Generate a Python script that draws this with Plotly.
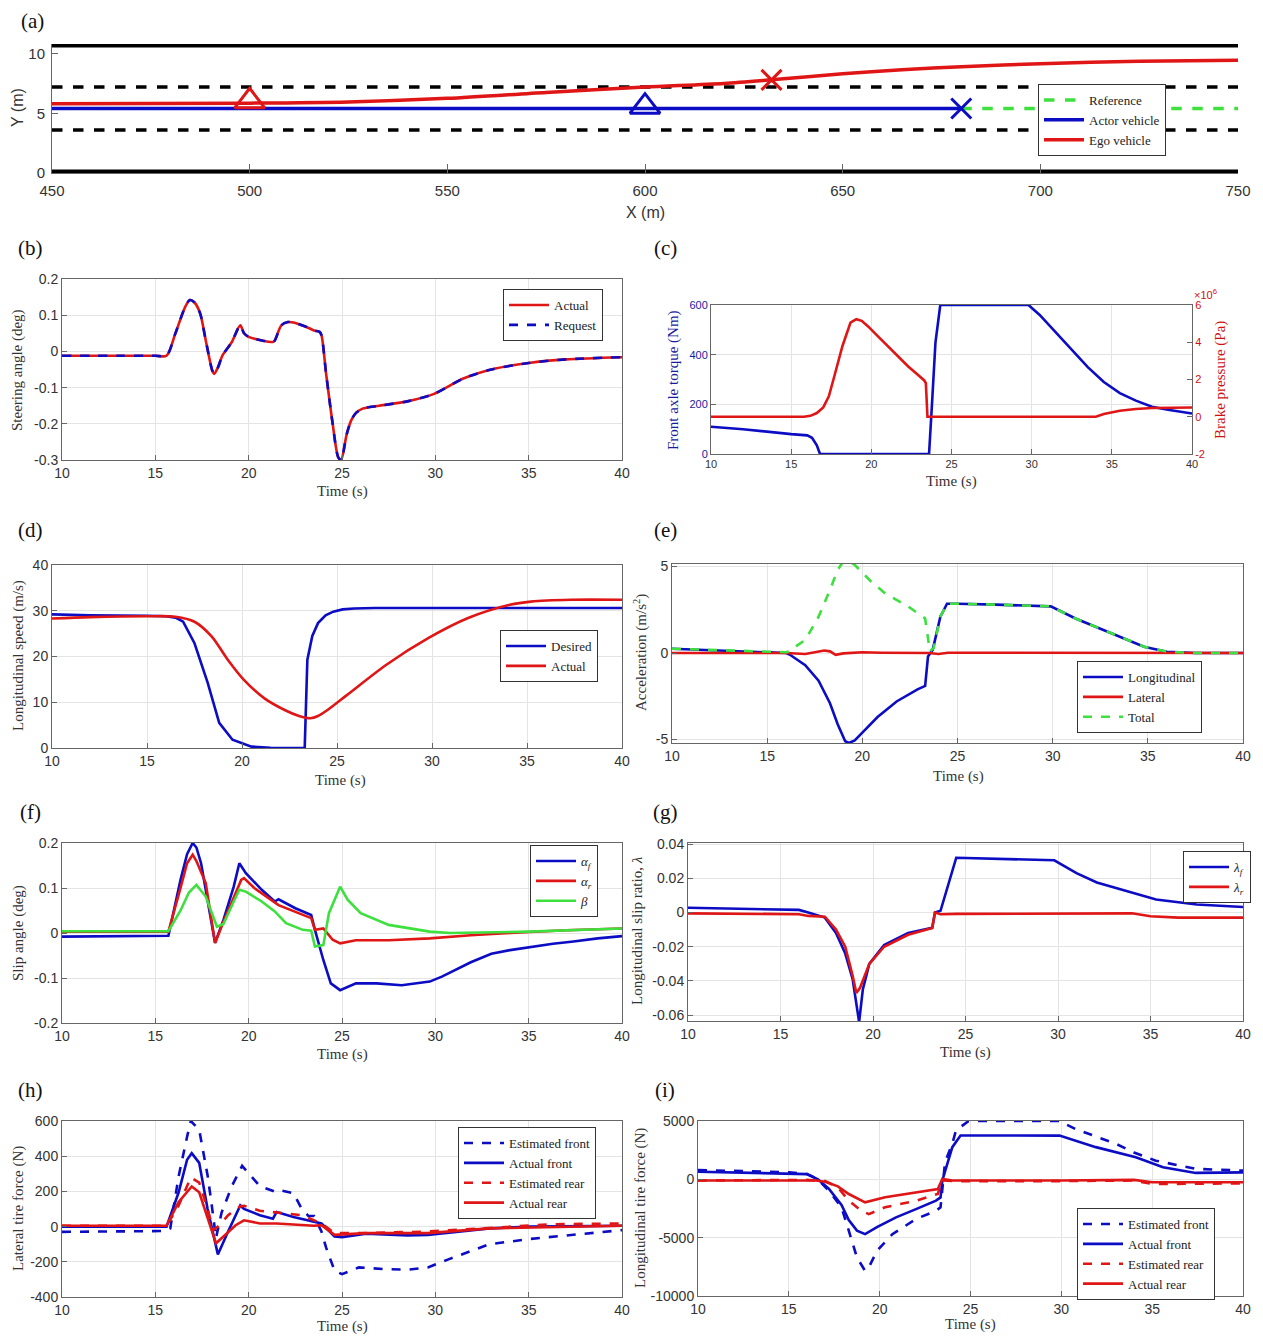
import plotly.graph_objects as go

PAGE_W, PAGE_H = 1263, 1342
BODY_MARGIN = 8
W, H = PAGE_W - 2 * BODY_MARGIN, PAGE_H - 2 * BODY_MARGIN

# ---------------- (a) trajectories ----------------
road_x = [450, 750]
road_edge_lo = [0, 0]
road_edge_hi = [10.8, 10.8]
lane_lo = [3.6, 3.6]
lane_hi = [7.2, 7.2]
actor_x = [450, 680]
actor_y = [5.4, 5.4]
ref_x = [680, 750]
ref_y = [5.4, 5.4]
ego_x = [450, 500, 525, 550, 575, 600, 620, 632, 650, 665, 680, 700, 725, 750]
ego_y = [5.8, 5.85, 5.95, 6.25, 6.75, 7.2, 7.5, 7.8, 8.3, 8.65, 8.9, 9.15, 9.35, 9.45]
ego_start_x, ego_start_y = [500], [6.0]
ego_end_x, ego_end_y = [632], [7.8]
actor_start_x, actor_start_y = [600], [5.55]
actor_end_x, actor_end_y = [680], [5.4]

# ---------------- (b) steering ----------------
steer_t = [10, 13, 15.0, 15.6, 16.07, 16.6, 16.85, 17.1, 17.4, 17.7, 18.05, 18.15, 18.35, 18.6,
           19.1, 19.55, 19.75, 20.0, 20.65, 21.3, 21.4, 21.75, 22.1, 22.4, 23.07, 23.5, 23.8,
           23.9, 24.15, 24.5, 24.8, 24.95, 25.25, 25.5, 25.75, 26.1, 27, 28.5, 29.9, 31.5, 33,
           35, 37, 40]
steer_actual = [-0.012, -0.012, -0.012, -0.012, 0.049, 0.123, 0.142, 0.135, 0.105, 0.031, -0.053,
                -0.062, -0.045, -0.011, 0.026, 0.072, 0.05, 0.04, 0.031, 0.026, 0.03, 0.072,
                0.081, 0.08, 0.068, 0.058, 0.054, 0.045, -0.062, -0.2, -0.293, -0.3, -0.229,
                -0.19, -0.17, -0.158, -0.15, -0.138, -0.118, -0.075, -0.05, -0.032, -0.022,
                -0.016]
steer_request = [-0.012, -0.012, -0.012, -0.012, 0.049, 0.123, 0.142, 0.135, 0.105, 0.031,
                 -0.053, -0.062, -0.045, -0.011, 0.026, 0.072, 0.05, 0.04, 0.031, 0.026, 0.03,
                 0.072, 0.081, 0.08, 0.068, 0.058, 0.054, 0.045, -0.062, -0.2, -0.293, -0.3,
                 -0.229, -0.19, -0.17, -0.158, -0.15, -0.138, -0.118, -0.075, -0.05, -0.032,
                 -0.022, -0.016]

# ---------------- (c) torque / brake pressure ----------------
torque_t = [10, 12, 15, 16, 16.3, 16.6, 16.8, 23.6, 23.8, 24.0, 24.3, 29.8, 30.5, 31.5, 32.5,
            33.5, 34.5, 35.5, 36.5, 37.5, 38.5, 40]
torque = [110, 100, 80, 75, 65, 35, 0, 0, 220, 450, 600, 600, 560, 490, 420, 350, 290, 245, 215,
          190, 178, 163]
press_t = [10, 15.8, 16.2, 16.6, 17.0, 17.35, 17.7, 18.2, 18.7, 19.06, 19.4, 19.8, 20.4, 21.0,
           21.65, 22.3, 22.9, 23.3, 23.4, 23.5, 34.0, 34.5, 35.5, 36.5, 37.5, 40]
pressure_1e6 = [0, 0, 0.05, 0.2, 0.5, 1.1, 2.2, 3.8, 5.06, 5.24, 5.15, 4.85, 4.33, 3.8, 3.25,
                2.7, 2.25, 1.95, 1.8, 0, 0, 0.15, 0.32, 0.42, 0.47, 0.5]

# ---------------- (d) longitudinal speed ----------------
des_t = [10, 12, 15, 16, 16.5, 16.9, 17.5, 18.2, 18.8, 19.5, 20.5, 21.5, 23.3, 23.44, 23.7, 24.0,
         24.4, 24.8, 25.3, 25.9, 27, 40]
speed_desired = [29.2, 29.0, 28.9, 28.8, 28.5, 27.6, 22.9, 14.2, 5.5, 1.8, 0.3, 0.05, 0.0, 19.3,
                 24.5, 27.3, 29.0, 29.8, 30.3, 30.5, 30.6, 30.6]
act_t = [10, 12, 15, 16.5, 17.5, 18.4, 19.25, 20.1, 21.2, 22.3, 23.0, 23.6, 24.0, 24.5, 25.5,
         27.6, 29.8, 31.9, 34.1, 35.2, 37.3, 40]
speed_actual = [28.3, 28.6, 28.8, 28.7, 27.6, 24.4, 19.3, 14.9, 10.8, 8.2, 7.0, 6.5, 7.0, 8.3,
                11.5, 18.2, 24.0, 28.4, 31.3, 32.0, 32.4, 32.4]

# ---------------- (e) accelerations ----------------
lon_t = [10, 12, 14, 16, 16.2, 17.0, 17.7, 18.3, 18.7, 19.1, 19.3, 19.6, 20.0, 20.8, 21.8, 22.9,
         23.3, 23.45, 23.7, 24.1, 24.45, 25, 27, 29.9, 31.2, 33.3, 34.8, 36.0, 37.5, 40]
acc_lon = [0.25, 0.18, 0.1, 0.0, -0.1, -0.7, -1.6, -2.9, -4.1, -5.1, -5.2, -5.05, -4.6, -3.7,
           -2.8, -2.1, -1.9, -0.2, 0.2, 2.1, 2.85, 2.85, 2.8, 2.7, 2.0, 1.05, 0.37, 0.08, 0.0, 0.0]
lat_t = [10, 16, 17, 17.5, 18, 18.3, 18.6, 19.0, 20, 21, 23.5, 24.0, 24.5, 40]
acc_lat = [0, 0, -0.05, 0.05, 0.15, 0.1, -0.1, -0.02, 0.05, 0.02, 0.0, -0.05, 0.02, 0.0]
tot_t = [10, 12, 14, 16, 16.3, 16.6, 17.0, 17.7, 18.3, 18.7, 19.0, 19.3, 19.6, 20.4, 21.2, 22.4,
         23.3, 23.55, 23.75, 24.1, 24.45, 25, 27, 29.9, 31.2, 33.3, 34.8, 36.0, 37.5, 40]
acc_tot = [0.25, 0.18, 0.1, 0.05, 0.15, 0.46, 0.75, 2.1, 3.65, 4.8, 5.3, 5.3, 5.1, 4.2, 3.45, 2.7,
           2.0, 0.1, 0.3, 2.1, 2.85, 2.85, 2.8, 2.7, 2.0, 1.05, 0.37, 0.08, 0.0, 0.0]

# ---------------- (f) slip angles ----------------
af_t = [10, 15.7, 16.35, 16.7, 17.0, 17.2, 17.45, 17.9, 18.2, 18.65, 19.2, 19.5, 19.85, 20.7,
        21.4, 21.6, 22.5, 23.35, 23.55, 24.0, 24.4, 24.9, 25.75, 26.85, 28.2, 29.7, 30.35, 31.9,
        33.0, 34.0, 35.2, 36.3, 37.4, 38.7, 40]
alpha_f = [-0.008, -0.006, 0.118, 0.175, 0.2, 0.19, 0.155, 0.044, -0.022, 0.029, 0.103, 0.155,
           0.133, 0.096, 0.07, 0.075, 0.055, 0.04, 0.007, -0.06, -0.112, -0.127, -0.112, -0.112,
           -0.116, -0.108, -0.097, -0.065, -0.046, -0.038, -0.03, -0.024, -0.019, -0.012, -0.007]
ar_t = [10, 15.7, 16.35, 16.7, 17.0, 17.2, 17.7, 18.2, 18.6, 19.0, 19.6, 19.75, 20.3, 21.6, 23.35,
        23.55, 24.0, 24.5, 24.9, 25.75, 27.5, 29.7, 31.9, 34.0, 37, 40]
alpha_r = [0.003, 0.003, 0.1, 0.155, 0.174, 0.16, 0.111, -0.022, 0.02, 0.059, 0.118, 0.122, 0.1,
           0.062, 0.033, 0.007, 0.01, -0.015, -0.023, -0.016, -0.016, -0.012, -0.005, 0.0, 0.006,
           0.01]
beta_t = [10, 15.7, 16.35, 16.8, 17.2, 17.7, 18.3, 18.65, 19.2, 19.5, 19.85, 20.7, 21.4, 22.0,
          22.9, 23.35, 23.55, 24.0, 24.3, 24.9, 25.3, 26.0, 27.5, 29.7, 30.8, 35, 40]
beta = [0.004, 0.004, 0.05, 0.09, 0.107, 0.081, 0.014, 0.02, 0.07, 0.096, 0.092, 0.07, 0.048,
        0.022, 0.007, 0.005, -0.03, -0.027, 0.044, 0.103, 0.074, 0.044, 0.018, 0.003, 0.0, 0.003,
        0.01]

# ---------------- (g) slip ratios ----------------
lf_t = [10, 15, 16, 16.5, 17.4, 18.0, 18.5, 18.9, 19.1, 19.25, 19.45, 19.8, 20.6, 21.9, 23.2,
        23.35, 23.65, 24.3, 24.5, 29.8, 31.0, 32.1, 34.0, 35.3, 37.5, 40]
lam_f = [0.0028, 0.002, 0.0015, 0.0, -0.003, -0.012, -0.024, -0.039, -0.053, -0.064, -0.045,
         -0.03, -0.019, -0.012, -0.009, 0.0, 0.001, 0.025, 0.032, 0.0305, 0.023, 0.0175, 0.0116,
         0.0076, 0.0047, 0.0032]
lr_t = [10, 16, 16.5, 17.4, 18.0, 18.5, 18.9, 19.1, 19.3, 19.8, 20.6, 21.9, 23.2, 23.35, 23.65,
        24.5, 34.0, 35.0, 36.5, 40]
lam_r = [-0.0005, -0.001, -0.002, -0.0025, -0.01, -0.02, -0.037, -0.047, -0.044, -0.03, -0.02,
         -0.013, -0.009, 0.0, -0.001, -0.0008, -0.0005, -0.0022, -0.003, -0.003]

# ---------------- (h) lateral tire forces ----------------
hef_t = [10, 15.5, 15.8, 16.25, 16.7, 16.9, 17.35, 17.8, 18.0, 18.25, 18.55, 19.1, 19.65, 20.6,
         21.5, 21.75, 22.4, 22.8, 23.2, 23.5, 23.9, 24.15, 24.6, 25.0, 25.9, 27.4, 28.5, 29.6,
         30.7, 32.9, 35.1, 37, 40]
lat_est_front = [-30, -25, -10, 287, 510, 600, 550, 290, 140, -65, 80, 230, 345, 230, 195, 205,
                 190, 110, 60, 60, -28, -120, -250, -270, -232, -242, -245, -232, -186, -100, -70,
                 -50, -20]
haf_t = [10, 15.6, 16.25, 16.7, 16.95, 17.35, 17.8, 18.25, 18.35, 18.9, 19.55, 19.75, 20.6, 21.3,
         21.5, 22.4, 23.5, 23.9, 24.6, 25.0, 26.3, 28.5, 29.6, 32.9, 35.1, 40]
lat_act_front = [0, 0, 195, 380, 417, 362, 100, -112, -158, -28, 120, 100, 65, 45, 83, 55, 28, 18,
                 -56, -60, -40, -50, -47, -10, 0, 5]
her_t = [10, 15.6, 16.25, 16.9, 17.35, 17.8, 18.1, 18.45, 18.9, 19.55, 19.75, 20.6, 21.95, 22.8,
         23.3, 23.9, 24.6, 26.3, 29.6, 32.9, 36.2, 40]
lat_est_rear = [5, 5, 120, 280, 250, 100, -20, 8, 65, 115, 118, 90, 75, 65, 45, 18, -37, -37, -28,
                -6, 13, 18]
har_t = [10, 15.6, 16.25, 16.95, 17.35, 17.8, 18.25, 18.65, 19.3, 19.75, 20.6, 21.5, 22.4, 23.5,
         23.9, 24.6, 26.3, 29.6, 32.9, 37.3, 40]
lat_act_rear = [5, 5, 140, 228, 195, 45, -95, -56, 8, 36, 18, 18, 13, 5, 8, -47, -37, -37, -10,
                0, 5]

# ---------------- (i) longitudinal tire forces ----------------
ief_t = [10, 15, 16, 16.6, 17.2, 17.9, 18.3, 18.75, 19.2, 19.4, 19.85, 20.7, 22.0, 23.1, 23.35,
         23.6, 24.0, 24.2, 24.9, 29.9, 30.8, 32.0, 33.0, 34.0, 35.2, 37.4, 40]
lon_est_front = [800, 600, 450, 0, -970, -2400, -4400, -6700, -7850, -7560, -6130, -4700, -3400,
                 -2700, -2400, 1500, 3050, 4200, 5000, 5000, 4300, 3600, 3050, 2300, 1600, 900,
                 750]
iaf_t = [10, 15, 16, 16.6, 17.2, 17.9, 18.3, 18.75, 19.2, 19.85, 20.9, 22.0, 23.1, 23.35, 23.45,
         24.0, 24.45, 29.9, 31.9, 34.1, 35.6, 37.4, 40]
lon_act_front = [650, 500, 450, 0, -800, -2200, -3500, -4400, -4700, -4100, -3260, -2550, -1830,
                 -1550, -100, 2760, 3760, 3750, 2760, 1900, 1040, 550, 600]
ier_t = [10, 16, 17, 17.7, 18.3, 19.0, 19.4, 20.3, 22.0, 23.2, 23.45, 24, 30, 34, 35, 37, 40]
lon_est_rear = [-100, -50, -150, -680, -1830, -2700, -2980, -2400, -1830, -1250, -100, -150,
                -150, -100, -400, -400, -350]
iar_t = [10, 16.5, 17, 17.7, 18.3, 19.2, 20.3, 22.0, 23.2, 23.45, 24, 30, 34, 35, 40]
lon_act_rear = [-100, -100, -200, -600, -1260, -1970, -1540, -1110, -830, 30, -100, -100, -50,
                -250, -250]

# tick labels
y_ticks_a = [0, 5, 10]
x_ticks_a = [450, 500, 550, 600, 650, 700, 750]
time_ticks = [10, 15, 20, 25, 30, 35, 40]
y_ticks_b = [-0.3, -0.2, -0.1, 0, 0.1, 0.2]
y_ticks_c = [0, 200, 400, 600]
y2_ticks_c = [-2, 0, 2, 4, 6]
y_ticks_d = [0, 10, 20, 30, 40]
y_ticks_e = [-5, 0, 5]
y_ticks_f = [-0.2, -0.1, 0, 0.1, 0.2]
y_ticks_g = [-0.06, -0.04, -0.02, 0, 0.02, 0.04]
y_ticks_h = [-400, -200, 0, 200, 400, 600]
y_ticks_i = [-10000, -5000, 0, 5000]

# ---------------- styling ----------------
BLUE = "#0c0cc4"
RED = "#e01515"
GREEN = "#3ee03e"
SERIF = "Liberation Serif"
SANS = "Liberation Sans"
LW = 2.6


def px(x):
    # page pixel -> paper fraction (page has an 8px body margin)
    return (x - BODY_MARGIN) / W


def py(y):
    return 1 - (y - BODY_MARGIN) / H


def dom(l, r, t, b):
    return dict(domain=[px(l), px(r)]), dict(domain=[py(b), py(t)])


fig = go.Figure()


def add(x, y, color, name=None, dash=None, xa="x", ya="y", legend=None, width=LW, shape="linear"):
    fig.add_trace(go.Scatter(
        x=x, y=y, mode="lines", name=name if name else "",
        line=dict(color=color, width=width, dash=dash, shape=shape, smoothing=0.8),
        xaxis=xa, yaxis=ya, showlegend=name is not None,
        legend=legend if legend else "legend", hoverinfo="skip"))


# (a)
add(road_x, road_edge_lo, "black", width=7)
add(road_x, road_edge_hi, "black", width=7)
add(road_x, lane_lo, "black", dash="dash", width=3.5)
add(road_x, lane_hi, "black", dash="dash", width=3.5)
add(ref_x, ref_y, GREEN, name="Reference", dash="dash", width=3.5)
add(actor_x, actor_y, BLUE, name="Actor vehicle", width=3.5)
add(ego_x, ego_y, RED, name="Ego vehicle", width=3.5, shape="spline")
for mx, my, sym, col in [(ego_start_x, ego_start_y, "triangle-up-open", RED),
                         (actor_start_x, actor_start_y, "triangle-up-open", BLUE),
                         (ego_end_x, ego_end_y, "x-thin-open", RED),
                         (actor_end_x, actor_end_y, "x-thin-open", BLUE)]:
    fig.add_trace(go.Scatter(x=mx, y=my, mode="markers", showlegend=False, hoverinfo="skip",
                             marker=dict(symbol=sym, size=26 if "triangle" in sym else 20,
                                         color=col, line=dict(color=col, width=3))))

# (b)
add(steer_t, steer_actual, RED, name="Actual", xa="x2", ya="y2", legend="legend2", shape="spline")
add(steer_t, steer_request, BLUE, name="Request", dash="dash", xa="x2", ya="y2", legend="legend2",
    shape="spline")

# (c)
add(torque_t, torque, BLUE, xa="x3", ya="y3")
add(press_t, pressure_1e6, RED, xa="x3", ya="y10")

# (d)
add(des_t, speed_desired, BLUE, name="Desired", xa="x4", ya="y4", legend="legend3")
add(act_t, speed_actual, RED, name="Actual", xa="x4", ya="y4", legend="legend3", shape="spline")

# (e)
add(lon_t, acc_lon, BLUE, name="Longitudinal", xa="x5", ya="y5", legend="legend4")
add(lat_t, acc_lat, RED, name="Lateral", xa="x5", ya="y5", legend="legend4")
add(tot_t, acc_tot, GREEN, name="Total", dash="dash", xa="x5", ya="y5", legend="legend4")

# (f)
add(af_t, alpha_f, BLUE, name="<i>α<sub>f</sub></i>", xa="x6", ya="y6", legend="legend5")
add(ar_t, alpha_r, RED, name="<i>α<sub>r</sub></i>", xa="x6", ya="y6", legend="legend5")
add(beta_t, beta, GREEN, name="<i>β</i>", xa="x6", ya="y6", legend="legend5")

# (g)
add(lf_t, lam_f, BLUE, name="<i>λ<sub>f</sub></i>", xa="x7", ya="y7", legend="legend6")
add(lr_t, lam_r, RED, name="<i>λ<sub>r</sub></i>", xa="x7", ya="y7", legend="legend6")

# (h)
add(hef_t, lat_est_front, BLUE, name="Estimated front", dash="dash", xa="x8", ya="y8", legend="legend7")
add(haf_t, lat_act_front, BLUE, name="Actual front", xa="x8", ya="y8", legend="legend7")
add(her_t, lat_est_rear, RED, name="Estimated rear", dash="dash", xa="x8", ya="y8", legend="legend7")
add(har_t, lat_act_rear, RED, name="Actual rear", xa="x8", ya="y8", legend="legend7")

# (i)
add(ief_t, lon_est_front, BLUE, name="Estimated front", dash="dash", xa="x9", ya="y9", legend="legend8")
add(iaf_t, lon_act_front, BLUE, name="Actual front", xa="x9", ya="y9", legend="legend8")
add(ier_t, lon_est_rear, RED, name="Estimated rear", dash="dash", xa="x9", ya="y9", legend="legend8")
add(iar_t, lon_act_rear, RED, name="Actual rear", xa="x9", ya="y9", legend="legend8")


def axstyle(size=14, grid=True, mirror=True, color="#333"):
    return dict(showline=True, linecolor="#666", linewidth=1, mirror=mirror, ticks="inside",
                ticklen=5, tickcolor="#666", showgrid=grid, gridcolor="#e4e4e4", zeroline=False,
                automargin=False,
                tickfont=dict(family=SANS, size=size, color=color))


def fmt(v):
    return ("%g" % v)


layout = dict(width=W, height=H, margin=dict(l=0, r=0, t=0, b=0, autoexpand=False),
              plot_bgcolor="white", paper_bgcolor="white", showlegend=True)

# panel boxes (page pixels: left, right, top, bottom)
boxes = {
    "": (52, 1238, 44, 173),
    "2": (62, 622, 279, 460),
    "3": (711, 1192, 305, 454),
    "4": (52, 622, 565, 748),
    "5": (672, 1243, 564, 743),
    "6": (62, 622, 843, 1023),
    "7": (688, 1243, 843, 1021),
    "8": (62, 622, 1121, 1297),
    "9": (698, 1243, 1121, 1296),
}
yranges = {"": [0, 10.8], "2": [-0.3, 0.2], "3": [0, 600], "4": [0, 40], "5": [-5.2, 5.15],
           "6": [-0.2, 0.2], "7": [-0.0634, 0.0406], "8": [-400, 600], "9": [-10000, 5000]}
ytickvals = {"": y_ticks_a, "2": y_ticks_b, "3": y_ticks_c, "4": y_ticks_d, "5": y_ticks_e,
             "6": y_ticks_f, "7": y_ticks_g, "8": y_ticks_h, "9": y_ticks_i}

for k, (l, r, t, b) in boxes.items():
    xd, yd = dom(l, r, t, b)
    size = 11 if k == "3" else 14
    if k == "":
        xa = axstyle(size=15, grid=False, mirror=False)
        ya = axstyle(size=15, grid=False, mirror=False)
        xa.update(range=[450, 750], tickvals=x_ticks_a, ticktext=[fmt(v) for v in x_ticks_a],
                  ticklen=9, ticklabelstandoff=4)
        ya.update(ticklen=6, ticklabelstandoff=3)
    else:
        xa = axstyle(size=size)
        ya = axstyle(size=size, mirror=(k != "3"))
        xa.update(range=[10, 40], tickvals=time_ticks, ticktext=[fmt(v) for v in time_ticks])
    xa.update(xd, anchor="y" + k)
    ya.update(yd, anchor="x" + k, range=yranges[k], tickvals=ytickvals[k],
              ticktext=[fmt(v) for v in ytickvals[k]])
    if k == "3":
        ya["tickfont"]["color"] = "#1a1aa0"
    layout["xaxis" + k] = xa
    layout["yaxis" + k] = ya

# right axis for (c)
y10 = axstyle(size=11, grid=False, mirror=False, color="#d01010")
y10.update(overlaying="y3", side="right", anchor="x3", range=[-2, 6], tickvals=y2_ticks_c,
           ticktext=[fmt(v) for v in y2_ticks_c])
layout["yaxis10"] = y10


def legend_at(l, t):
    return dict(x=px(l), y=py(t), xanchor="left", yanchor="top", bgcolor="white",
                bordercolor="#333", borderwidth=1, font=dict(family=SERIF, size=13, color="#222"),
                tracegroupgap=0, itemwidth=40)


layout["legend"] = legend_at(1038, 84)
layout["legend2"] = legend_at(503, 289)
layout["legend3"] = legend_at(500, 630)
layout["legend4"] = legend_at(1077, 661)
layout["legend5"] = legend_at(530, 845)
layout["legend6"] = legend_at(1183, 851)
layout["legend7"] = legend_at(458, 1127)
layout["legend8"] = legend_at(1077, 1208)

fig.update_layout(**layout)

ann = []


def text(s, x, y, size=15, family=SERIF, angle=0, color="#333"):
    ann.append(dict(text=s, x=px(x), y=py(y), xref="paper", yref="paper", showarrow=False,
                    textangle=angle, xanchor="center", yanchor="middle",
                    font=dict(family=family, size=size, color=color)))


for lab, x, y in [("(a)", 32, 21), ("(b)", 30, 248), ("(c)", 665, 248), ("(d)", 30, 530),
                  ("(e)", 665, 530), ("(f)", 30, 812), ("(g)", 665, 812), ("(h)", 30, 1090),
                  ("(i)", 665, 1090)]:
    text(lab, x, y, size=21, color="#111")

text("Y (m)", 18, 108, size=16, family=SANS, angle=-90)
text("X (m)", 645, 212, size=16, family=SANS)
text("Steering angle (deg)", 18, 370, angle=-90)
text("Time (s)", 342, 491)
text("Front axle torque (Nm)", 673, 380, angle=-90, color="#1a1aa0")
text("Brake pressure (Pa)", 1220, 380, angle=-90, color="#d01010")
text("×10<sup>6</sup>", 1205, 294, size=11, family=SANS, color="#d01010")
text("Time (s)", 951, 481)
text("Longitudinal speed (m/s)", 18, 656, angle=-90)
text("Time (s)", 340, 780)
text("Acceleration (m/s<sup>2</sup>)", 640, 653, angle=-90)
text("Time (s)", 958, 776)
text("Slip angle (deg)", 18, 933, angle=-90)
text("Time (s)", 342, 1054)
text("Longitudinal slip ratio, <i>λ</i>", 637, 931, angle=-90)
text("Time (s)", 965, 1052)
text("Lateral tire force (N)", 18, 1209, angle=-90)
text("Time (s)", 342, 1326)
text("Longitudinal tire force (N)", 640, 1208, angle=-90)
text("Time (s)", 970, 1324)

fig.update_layout(annotations=ann)
fig.write_html("out.html")
